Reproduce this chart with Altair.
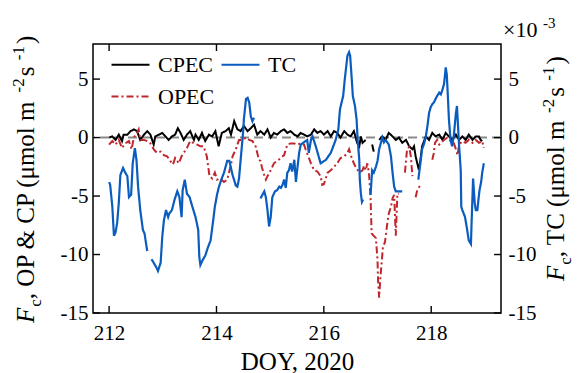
import altair as alt
import pandas as pd

# ---------------------------------------------------------------------------
# Flux records, DOY 212-219 (2020). None marks a gap in the record.
# CPEC and OPEC in µmol m-2 s-1, TC in 1e-3 µmol m-2 s-1.
# ---------------------------------------------------------------------------
cpec_doy = [212.00, 212.06, 212.12, 212.18, 212.24, 212.27, 212.34, 212.40, 212.46, 212.52,
            212.58, 212.65, 212.71, 212.77, 212.83, 212.86, 212.93, 212.99, 213.05, 213.11,
            213.17, 213.23, 213.28, 213.33, 213.39, 213.45, 213.51, 213.58, 213.61, 213.67,
            213.73, 213.79, 213.86, 213.92, 213.98, 214.04, 214.10, 214.17, 214.23, 214.27,
            214.33, 214.39, 214.45, 214.51, 214.58, 214.64, 214.70, 214.76, 214.82, 214.89,
            214.95, 215.01, 215.07, 215.13, 215.20, 215.26, 215.32, 215.38, 215.45, 215.51,
            215.57, 215.63, 215.69, 215.76, 215.82, 215.88, 215.94, 216.00, 216.07, 216.13,
            216.19, 216.25, 216.31, 216.38, 216.44, 216.50, 216.56, 216.62, 216.66, 216.69,
            216.72, 216.78, None,
            216.90, 216.93, None,
            217.03, 217.09, 217.15, 217.21, 217.28, 217.34, 217.40, 217.46, 217.53, 217.59,
            217.65, 217.68, 217.71, 217.74, 217.77, 217.80, 217.83, 217.90, 217.96, 218.02,
            218.08, 218.15, 218.21, 218.27, 218.33, 218.39, 218.46, 218.52, 218.58, 218.64,
            218.70, 218.77, 218.83, 218.89, 218.92, 218.95]
cpec_val = [0.0, 0.1, -0.2, 0.25, -0.3, 0.25, 0.25, 0.55, 0.7, 0.55,
            -0.2, 0.25, 0.55, 0.25, -0.6, 0.1, 0.25, 0.4, 0.1, -0.2,
            0.1, 0.25, 0.8, 0.4, -0.2, 0.25, 0.55, -0.2, 0.25, -0.2,
            0.4, -0.3, 0.25, 0.1, 0.55, -0.75, 0.4, 0.55, 0.8, 0.25,
            1.4, 0.7, 0.55, 1.0, 0.55, 0.8, 1.1, 0.25, 0.55, 0.25,
            0.7, 0.0, 0.4, 0.25, 0.55, 0.7, 0.4, 0.55, 0.25, 0.1,
            0.4, 0.25, 0.1, 0.25, 0.7, 0.4, 0.55, 0.25, 0.55, 0.1,
            0.55, 0.4, 0.0, 0.55, 0.25, 0.1, 0.55, -0.45, -0.75, 0.1,
            -0.45, -0.2, None,
            -0.6, -1.2, None,
            -0.2, 0.1, -0.2, 0.4, 0.1, -0.2, 0.0, -0.45, -0.2, -0.75,
            -1.0, -0.75, -1.6, -2.2, -2.75, -1.9, -0.75, 0.1, -0.2, 0.4,
            0.1, 0.25, -0.2, 0.4, 0.1, -0.2, 0.25, -0.2, 0.1, -0.2,
            0.25, -0.2, 0.1, 0.1, -0.2, -0.3]

opec_doy = [212.00, 212.06, 212.12, 212.18, 212.24, 212.30, 212.37, 212.42, 212.46, 212.52,
            212.55, 212.58, 212.65, 212.71, 212.77, 212.83, 212.89, 212.96, 213.02, 213.08,
            213.14, 213.19, 213.23, 213.30, 213.35, 213.39, 213.45, 213.51, 213.58, 213.64,
            213.70, 213.76, 213.82, 213.87, 213.92, 213.97, 214.01, 214.07, 214.14, 214.20,
            214.27, 214.30, 214.36, 214.42, 214.48, 214.55, 214.61, 214.67, 214.73, 214.79,
            214.82, 214.85, 214.89, 214.92, 214.95, 215.01, 215.07, 215.13, 215.20, 215.26,
            215.32, 215.38, 215.45, 215.51, 215.57, 215.63, 215.66, 215.76, 215.82, 215.88,
            215.94, 215.97, 216.00, 216.07, 216.13, 216.19, 216.25, 216.31, 216.38, 216.44,
            216.47, 216.53, 216.59, 216.66, 216.72, 216.75, 216.78, 216.81, 216.84, 216.87,
            216.89, 216.93, 216.97, 217.00, 217.01, 217.03, 217.05, 217.08, 217.10, 217.14,
            217.18, 217.21, 217.25, 217.28, 217.31, 217.34, 217.37, 217.40, None,
            217.51, 217.55, 217.59, 217.62, 217.65, None,
            217.71, 217.74, 217.80, None,
            218.02, 218.05, 218.07, 218.11, 218.15, 218.24, 218.30, 218.36, 218.42, 218.46,
            218.49, 218.52, 218.58, 218.64, 218.70, 218.77, 218.83, 218.89, 218.95, 218.98]
opec_val = [-0.6, -0.3, -0.6, -0.2, -0.9, -0.5, -0.3, -1.0, 0.0, 0.4,
            0.7, -0.2, -0.2, -0.3, -0.5, -1.0, -1.3, -1.2, -1.5, -1.6,
            -2.0, -2.3, -1.75, -2.2, -1.6, -1.3, -0.9, -0.3, -0.5, -0.6,
            -0.75, -0.75, -1.6, -3.3, -3.5, -3.0, -3.6, -3.5, -3.8, -3.6,
            -2.3, -1.6, -1.0, -0.2, -0.2, 0.0, -0.2, -0.3, -0.75, -1.9,
            -2.0, -2.6, -3.2, -3.6, -3.3, -2.8, -2.2, -2.0, -1.75, -1.5,
            -0.6, -0.5, -0.5, -0.6, -0.5, -0.6, -1.0, -2.2, -2.8, -2.9,
            -3.3, -4.05, -4.0, -3.0, -2.8, -2.5, -2.2, -1.75, -1.6, -1.3,
            -1.0, -1.9, -2.5, -3.0, -2.8, -2.4, -2.8, -2.2, -3.0, -5.1,
            -8.2, -8.4, -8.6, -10.5, -12.2, -13.7, -12.2, -10.5, -9.4, -8.9,
            -7.4, -6.5, -5.9, -5.2, -4.9, -8.4, -4.8, -4.8, None,
            -3.0, -1.0, -0.8, -1.6, -3.3, None,
            -5.1, -4.5, -4.05, None,
            -1.9, -1.3, -0.45, -0.2, -0.6, -0.2, 0.0, -0.3, -0.45, -1.0,
            -1.5, -0.6, -0.3, -0.45, -0.2, -0.45, -0.2, -0.45, -0.3, -0.9]

tc_doy = [212.00, 212.02, 212.06, 212.09, 212.12, 212.15, 212.18, 212.21, 212.26, 212.30,
          212.34, 212.37, 212.41, 212.44, 212.48, 212.51, 212.54, 212.58, 212.63, 212.66,
          212.71, None,
          212.79, 212.83, 212.88, 212.91, 212.96, 212.99, 213.02, 213.06, 213.10, 213.12,
          213.17, 213.22, 213.27, 213.31, 213.35, 213.37, 213.41, 213.45, 213.50, 213.55,
          213.61, 213.66, 213.68, 213.70, 213.74, 213.79, 213.84, 213.89, 213.93, 213.97,
          214.01, 214.04, 214.09, 214.14, 214.17, 214.20, 214.24, 214.30, 214.36, 214.39,
          214.42, 214.45, 214.48, 214.50, 214.51, 214.55, 214.58, 214.61, 214.64, 214.67,
          214.70, None,
          214.82, 214.89, 214.92, 214.95, 214.98, 215.01, 215.04, 215.09, 215.13, 215.17,
          215.20, 215.23, 215.26, 215.29, 215.32, 215.35, 215.38, 215.41, 215.45, 215.48,
          215.51, 215.54, 215.57, 215.63, 215.69, 215.72, 215.76, 215.79, 215.85, 215.94,
          216.04, 216.13, 216.22, 216.27, 216.30, 216.33, 216.36, 216.39, 216.44, 216.47,
          216.49, 216.52, 216.54, 216.58, 216.61, 216.63, 216.66, 216.67, 216.69, 216.71,
          216.73, None,
          216.87, 216.90, 216.93, 216.97, 217.00, 217.03, 217.06, 217.09, 217.12, 217.15,
          217.21, 217.25, 217.28, 217.31, 217.34, 217.40, 217.46, None,
          217.76, 217.79, 217.83, 217.87, 217.90, 217.93, 217.96, 217.99, 218.02, 218.05,
          218.08, 218.11, 218.15, 218.18, 218.21, 218.24, 218.27, 218.29, 218.31, 218.33,
          218.36, 218.39, 218.42, 218.46, 218.48, 218.49, 218.52, 218.55, 218.56, 218.58,
          218.63, 218.67, 218.70, 218.74, 218.75, 218.78, 218.81, 218.83, 218.86, 218.88,
          218.90, 218.93, 218.95, 218.98]
tc_val = [-3.8, -4.05, -5.9, -8.4, -8.1, -7.3, -5.6, -3.2, -2.6, -3.0,
          -3.3, -5.1, -4.9, -2.2, -0.9, -1.9, -4.2, -6.2, -7.9, -8.2,
          -9.7, None,
          -10.4, -10.7, -11.1, -11.4, -10.7, -8.5, -7.1, -6.2, -6.8, -6.5,
          -6.2, -5.3, -4.6, -5.1, -6.8, -4.5, -3.6, -4.8, -5.1, -5.9,
          -6.8, -7.9, -10.2, -10.9, -10.5, -10.1, -9.4, -8.8, -7.4, -5.9,
          -4.9, -4.3, -3.6, -3.0, -2.5, -2.0, -2.0, -3.2, -4.1, -4.2,
          -3.5, -1.9, -0.4, 0.7, 1.55, 3.3, 3.4, 3.0, 1.8, 1.4,
          1.7, None,
          -5.2, -4.6, -5.1, -6.2, -7.6, -6.8, -5.1, -4.6, -4.5, -4.2,
          -4.3, -4.05, -3.6, -4.3, -3.0, -2.8, -2.2, -2.9, -1.9, -3.8,
          -2.5, -1.3, -0.6, -0.4, -0.2, -1.3, -0.2, 0.1, -0.75, -2.2,
          -1.9, -1.3, -0.2, 0.7, 2.4, 3.0, 3.55, 5.0, 7.0, 7.3,
          7.0, 5.0, 3.55, 2.7, 1.55, -0.2, -1.9, -3.6, -4.8, -5.5,
          -5.3, None,
          -4.9, -2.8, -3.0, -2.5, -2.0, -1.0, -0.5, 0.0, -0.4, -0.2,
          -0.6, -1.6, -3.0, -4.2, -4.6, -4.6, -4.6, None,
          -3.6, -2.5, -1.0, -0.5, 0.1, 1.0, 2.1, 2.6, 2.85, 3.0,
          3.3, 3.55, 3.85, 3.7, 4.1, 4.6, 6.0, 5.4, 3.55, 1.55,
          -0.2, -0.75, 0.1, 2.1, 2.7, 1.8, -0.75, -2.8, -5.9, -6.2,
          -6.8, -7.9, -8.8, -9.1, -7.6, -3.5, -5.6, -6.2, -6.2, -5.3,
          -4.5, -3.8, -3.0, -2.2]

# legend entries fill column by column: CPEC, OPEC in the first column, TC in the second
series_names = ["CPEC", "OPEC", "TC"]
series_colors = ["#000000", "#c0272d", "#0a5cbe"]
series_dash = [[1, 0], [7, 3, 2, 3], [1, 0]]

x_ticks = [212, 214, 216, 218]
y_ticks = [-15, -10, -5, 0, 5]
x_domain = [211.7, 219.3]
y_domain = [-15, 8]

W, H = 408, 269
SERIF = "Liberation Serif"


def to_frame(name, doys, vals):
    """Long table; a None entry starts a new line segment."""
    rows, seg = [], 0
    for d, v in zip(doys, vals):
        if d is None or v is None:
            seg += 1
            continue
        rows.append({"doy": d, "val": v, "seg": f"{name}-{seg}", "series": name})
    return pd.DataFrame(rows)


cpec_df = to_frame("CPEC", cpec_doy, cpec_val)
opec_df = to_frame("OPEC", opec_doy, opec_val)
tc_df = to_frame("TC", tc_doy, tc_val)

x_scale = alt.Scale(domain=x_domain, nice=False, zero=False)
y_scale = alt.Scale(domain=y_domain, nice=False, zero=False)
neg_hyphen = "datum.value < 0 ? '-' + abs(datum.value) : '' + datum.value"

x_axis = alt.Axis(values=x_ticks, title="DOY, 2020", format="d", labelPadding=9,
                  titlePadding=6, labelFlush=False)
y_axis = alt.Axis(values=y_ticks, title=None, labelExpr=neg_hyphen, labelPadding=5)
y_axis_r = alt.Axis(values=y_ticks, title=None, labelExpr=neg_hyphen, labelPadding=7,
                    orient="right")

legend = alt.Legend(title=None, orient="none", legendX=17, legendY=0, columns=2,
                    direction="vertical", values=series_names, symbolType="stroke",
                    symbolSize=1444, symbolStrokeWidth=2.2, labelFont=SERIF,
                    labelFontSize=22, labelColor="black", labelOffset=7, columnPadding=2,
                    rowPadding=-5, padding=0)
color = alt.Color("series:N", scale=alt.Scale(domain=series_names, range=series_colors),
                  legend=legend)
dash = alt.StrokeDash("series:N", scale=alt.Scale(domain=series_names, range=series_dash),
                      legend=legend)


def X(field="doy"):
    return alt.X(f"{field}:Q", scale=x_scale, axis=x_axis)


def Y(field="val", axis=y_axis):
    return alt.Y(f"{field}:Q", scale=y_scale, axis=axis)


zero_line = alt.Chart(pd.DataFrame({"val": [0]})).mark_rule(
    color="#8a8a8a", strokeWidth=2, strokeDash=[9, 5]).encode(y=Y())


def flux_line(df, width):
    return alt.Chart(df).mark_line(strokeWidth=width).encode(
        x=X(), y=Y(), detail="seg:N", color=color, strokeDash=dash)


# inward-pointing tick marks on all four sides of the frame
xt = pd.DataFrame({"doy": x_ticks})
yt = pd.DataFrame({"val": y_ticks})
tick_style = dict(color="black", strokeWidth=1.4)
ticks_bottom = alt.Chart(xt).mark_rule(**tick_style).encode(
    x=X(), y=alt.value(H), y2=alt.value(H - 7))
ticks_top = alt.Chart(xt).mark_rule(**tick_style).encode(
    x=X(), y=alt.value(0), y2=alt.value(7))
ticks_left = alt.Chart(yt).mark_rule(**tick_style).encode(
    y=Y(), x=alt.value(0), x2=alt.value(7))
ticks_right = alt.Chart(yt).mark_rule(**tick_style).encode(
    y=Y(), x=alt.value(W), x2=alt.value(W - 7))

left_group = alt.layer(zero_line, flux_line(cpec_df, 2.0), flux_line(opec_df, 2.0),
                       ticks_bottom, ticks_top, ticks_left, ticks_right)

tc_line = alt.Chart(tc_df).mark_line(strokeWidth=2.2).encode(
    x=X(), y=Y(axis=y_axis_r), detail="seg:N", color=color, strokeDash=dash)

# ---------------------------------------------------------------------------
# Rotated axis titles with italic symbol, subscript and superscripts
# ---------------------------------------------------------------------------
EM = {" ": 0.25, ",": 0.25, "O": 0.722, "P": 0.556, "&": 0.778, "C": 0.667, "T": 0.611,
      "(": 0.333, ")": 0.333, "μ": 0.576, "m": 0.778, "o": 0.5, "l": 0.278, "s": 0.389,
      "-": 0.333, "1": 0.5, "2": 0.5, "3": 0.5, "c": 0.444, "F": 0.611}


def text_width(s, size):
    return sum(EM.get(ch, 0.5) for ch in s) * size


def rotated_title(parts, base_x, start_y):
    """parts: (text, size, italic, shift, extra gap); text runs upward from start_y."""
    layers, y = [], start_y
    for txt, size, italic, shift, gap in parts:
        layers.append(alt.Chart().mark_text(
            font=SERIF, fontSize=size, fontStyle="italic" if italic else "normal",
            angle=270, align="left", baseline="alphabetic", color="black").encode(
            x=alt.value(base_x + shift), y=alt.value(y), text=alt.value(txt)))
        y -= text_width(txt, size) + gap
    return layers


BIG, SMALL = 25, 17
left_title = rotated_title([
    ("F", BIG, True, 0, 1), ("c", SMALL, False, 7, 0),
    (" , OP & CP (μmol m", BIG, False, 0, 0),
    ("-2", SMALL, False, -10, 2), (" s", BIG, False, 0, 0), ("-1", SMALL, False, -10, 2),
    (")", BIG, False, 0, 0)], base_x=-59, start_y=279)
right_title = rotated_title([
    ("F", BIG, True, 0, 1), ("c", SMALL, False, 7, 0), (" , TC (μmol m", BIG, False, 0, 0),
    ("-2", SMALL, False, -10, 2), (" s", BIG, False, 0, 0), ("-1", SMALL, False, -10, 2),
    (")", BIG, False, 0, 0)], base_x=471, start_y=237)

scale_note = [
    alt.Chart().mark_text(font=SERIF, fontSize=22, align="left", baseline="alphabetic",
                          color="black").encode(
        x=alt.value(410), y=alt.value(-7), text=alt.value("×10")),
    alt.Chart().mark_text(font=SERIF, fontSize=15, align="left", baseline="alphabetic",
                          color="black").encode(
        x=alt.value(450), y=alt.value(-16), text=alt.value("-3")),
]

chart = alt.layer(left_group, tc_line, *left_title, *right_title, *scale_note).resolve_scale(
    y="independent"
).properties(
    width=W, height=H,
    autosize=alt.AutoSizeParams(type="none"),
    padding={"left": 93, "top": 44, "right": 81, "bottom": 60},
    background="white",
).configure_view(
    stroke="black", strokeWidth=1.5
).configure_axis(
    labelFont=SERIF, labelFontSize=21, labelColor="black", titleFont=SERIF,
    titleFontSize=25, titleFontWeight="normal", titleColor="black",
    grid=False, ticks=False, domain=False
)

chart.save("out.html", embed_options={"renderer": "svg", "actions": False})
